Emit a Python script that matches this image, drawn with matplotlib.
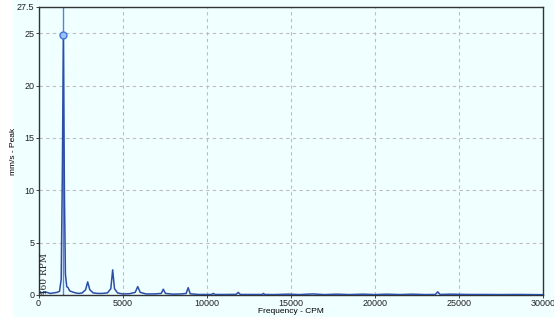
import matplotlib.pyplot as plt
from matplotlib.patches import Rectangle

plt.rcParams['font.family'] = ['Liberation Sans', 'DejaVu Sans']

# spectrum (CPM, mm/s peak)
frecuencia = [0, 100, 200, 350, 500, 700, 900, 1100, 1250, 1350, 1420, 1480, 1540,
              1600, 1680, 1760, 1850, 2000, 2200, 2400, 2600, 2800, 2925, 3050, 3250,
              3500, 3800, 4100, 4300, 4410, 4520, 4700, 5000, 5400, 5750, 5900, 6050,
              6400, 6900, 7300, 7420, 7550, 8000, 8500, 8780, 8900, 9020, 9500, 10000,
              10300, 10390, 10500, 11000, 11750, 11880, 12000, 12800, 13300, 13370,
              13450, 14000, 14850, 15500, 16300, 17000, 17730, 18500, 19300, 20000,
              20700, 21500, 22230, 23000, 23600, 23740, 23880, 24500, 25500, 26500,
              27500, 28500, 30000]
amplitud = [0.05, 0.3, 0.2, 0.3, 0.25, 0.15, 0.2, 0.25, 0.35, 1.5, 12, 24.8, 10,
            2.0, 0.8, 0.7, 0.4, 0.3, 0.2, 0.15, 0.2, 0.5, 1.25, 0.5, 0.2,
            0.15, 0.15, 0.2, 0.6, 2.4, 0.6, 0.2, 0.1, 0.12, 0.25, 0.8, 0.25,
            0.1, 0.1, 0.15, 0.55, 0.15, 0.08, 0.1, 0.15, 0.7, 0.12, 0.05, 0.05,
            0.05, 0.15, 0.05, 0.05, 0.06, 0.25, 0.05, 0.05, 0.05, 0.15,
            0.05, 0.04, 0.08, 0.04, 0.1, 0.04, 0.08, 0.04, 0.08, 0.04,
            0.08, 0.04, 0.08, 0.04, 0.05, 0.3, 0.05, 0.08, 0.05, 0.05,
            0.04, 0.05, 0.03]

cursor_x = 1480
cursor_y = 24.8
etiqueta_rpm = '1460 RPM'

xticks = [0, 5000, 10000, 15000, 20000, 25000, 30000]
yticks = [0, 5, 10, 15, 20, 25, 27.5]
yticklabels = ['0', '5', '10', '15', '20', '25', '27.5']

fondo = '#f0ffff'

fig = plt.figure(figsize=(5.54, 3.21), dpi=100, facecolor='white')
fig.patches.append(Rectangle((13 / 554, 4 / 321), 1, 1, transform=fig.transFigure,
                             facecolor=fondo, edgecolor='none', zorder=-10))
ax = fig.add_axes([38.5 / 554, 1 - 295 / 321, (543 - 38.5) / 554, (295 - 7) / 321])
ax.set_facecolor(fondo)

ax.plot(frecuencia, amplitud, color='#2b4ea6', lw=1.1, zorder=3)
ax.axvline(cursor_x, color='#4a86e8', lw=1, zorder=2)
ax.plot([cursor_x], [cursor_y], 'o', ms=5, mfc='#9fc0f5', mec='#3d75dd', mew=1, zorder=4)
ax.text(cursor_x - 1400, -0.55, etiqueta_rpm, rotation=90, fontsize=6.5,
        family='DejaVu Serif', color='#222222', ha='left', va='bottom', clip_on=True)

ax.set_xlim(0, 30000)
ax.set_ylim(0, 27.5)
ax.set_xticks(xticks)
ax.set_yticks(yticks)
ax.set_yticklabels(yticklabels)
ax.tick_params(labelsize=6.5, length=2, width=0.6, pad=1, colors='#222222')

for x in xticks[1:-1]:
    ax.axvline(x, color='#bdbdbd', lw=0.8, ls=(0, (3, 3)), zorder=1)
for y in yticks[1:-1]:
    ax.axhline(y, color='#bdbdbd', lw=0.8, ls=(0, (3, 3)), zorder=1)

for s in ax.spines.values():
    s.set_color('#333333')
    s.set_linewidth(1)

ax.set_xlabel('Frequency - CPM', fontsize=6, labelpad=0)
ax.set_ylabel('mm/s - Peak', fontsize=6)
ax.yaxis.set_label_coords(-0.043, 0.5)

fig.savefig('out.png', dpi=100, facecolor='white')
